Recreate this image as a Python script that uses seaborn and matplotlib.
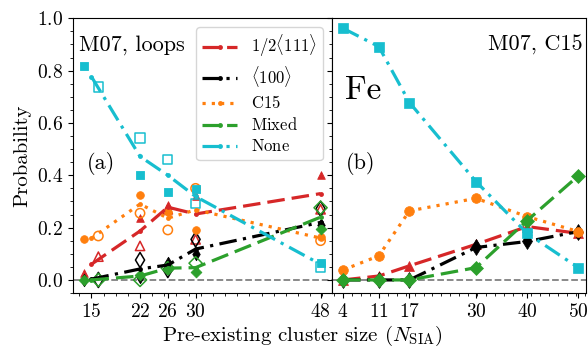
import matplotlib
matplotlib.use("Agg")
import matplotlib.pyplot as plt
from matplotlib.ticker import AutoMinorLocator
import seaborn as sns

# ---- panel (a): M07, loops ----
loop_sizes = [15, 22, 26, 30, 48]
loop_sizes_filled = [14, 22, 26, 30, 48]
loop_sizes_open = [16, 22, 26, 30, 48]

half111_avg = [0.060, 0.187, 0.278, 0.252, 0.330]
half111_filled = [0.028, 0.236, 0.285, 0.320, 0.400]
half111_open = [0.089, 0.130, 0.270, 0.155, 0.270]

h100_avg = [0.003, 0.042, 0.057, 0.118, 0.220]
h100_filled = [0.000, 0.010, 0.064, 0.100, 0.210]
h100_open = [0.000, 0.076, 0.038, 0.155, 0.272]

c15_avg = [0.159, 0.290, 0.236, 0.268, 0.160]
c15_filled = [0.156, 0.325, 0.260, 0.191, 0.163]
c15_open = [0.168, 0.255, 0.191, 0.350, 0.150]

mixed_avg = [0.000, 0.015, 0.045, 0.047, 0.240]
mixed_filled = [0.000, 0.020, 0.040, 0.030, 0.195]
mixed_open = [0.000, 0.000, 0.045, 0.064, 0.276]

none_avg = [0.777, 0.472, 0.400, 0.319, 0.060]
none_filled = [0.816, 0.400, 0.338, 0.347, 0.064]
none_open = [0.737, 0.542, 0.461, 0.293, 0.049]

# ---- panel (b): M07, C15 ----
c15_sizes = [4, 11, 17, 30, 40, 50]
b_half111 = [0.000, 0.015, 0.054, 0.136, 0.204, 0.178]
b_h100 = [0.000, 0.000, 0.000, 0.124, 0.147, 0.185]
b_c15 = [0.038, 0.092, 0.264, 0.312, 0.242, 0.185]
b_mixed = [0.000, 0.000, 0.000, 0.047, 0.227, 0.398]
b_none = [0.962, 0.892, 0.678, 0.376, 0.178, 0.047]

labels = [r"$1/2\langle111\rangle$", r"$\langle100\rangle$",
          r"$\mathrm{C15}$", r"$\mathrm{Mixed}$", r"$\mathrm{None}$"]
colors = ["#d62728", "black", "#ff7f0e", "#2ca02c", "#17becf"]
styles = [(0, (5.5, 2.2)), (0, (5.5, 2.0, 1.0, 2.0)), (0, (1.0, 1.9)),
          (0, (5.5, 2.2)), (0, (5.5, 2.0, 1.0, 2.0))]
markers = ["^", "d", "o", "D", "s"]

plt.rcParams["font.family"] = ["cmr10", "DejaVu Serif"]
plt.rcParams["mathtext.fontset"] = "cm"
plt.rcParams["axes.formatter.use_mathtext"] = True
plt.rcParams["axes.unicode_minus"] = False

fig = plt.figure(figsize=(5.88, 3.48), dpi=100)
axa = fig.add_axes([0.1236, 0.158, 0.4405, 0.7894])
axb = fig.add_axes([0.5641, 0.158, 0.4325, 0.7894], sharey=axa)

avg_sets = [half111_avg, h100_avg, c15_avg, mixed_avg, none_avg]
filled_sets = [half111_filled, h100_filled, c15_filled, mixed_filled, none_filled]
open_sets = [half111_open, h100_open, c15_open, mixed_open, none_open]
b_sets = [b_half111, b_h100, b_c15, b_mixed, b_none]

for ax in (axa, axb):
    ax.axhline(0, color="gray", ls="--", lw=1.3, zorder=0)

# individual runs as scatter markers, averages as lines
for lab, c, ls, mk, yf, yo, ya in zip(labels, colors, styles, markers,
                                      filled_sets, open_sets, avg_sets):
    sz = 30 if mk != "d" else 40
    sns.scatterplot(x=loop_sizes_filled, y=yf, ax=axa, marker=mk, s=sz,
                    color=c, edgecolor=c, linewidth=0.6, zorder=3)
    sns.scatterplot(x=loop_sizes_open, y=yo, ax=axa, marker=mk, s=sz * 1.5,
                    color=c, facecolor="none", edgecolor=c, linewidth=1.1,
                    zorder=3)
    sns.lineplot(x=loop_sizes, y=ya, ax=axa, color=c, linestyle=ls, lw=2.3,
                 marker="o", markersize=3.5, markeredgewidth=0, label=lab,
                 zorder=4)

for lab, c, ls, mk, yb in zip(labels, colors, styles, markers, b_sets):
    sns.lineplot(x=c15_sizes, y=yb, ax=axb, color=c, linestyle=ls, lw=2.3,
                 marker=mk, markersize=7 if mk != "d" else 8,
                 markeredgewidth=0.5, markeredgecolor=c, zorder=3)

axa.set_xlim(12.3, 49.6)
axb.set_xlim(1.8, 51.5)
axa.set_ylim(-0.05, 1.0)
axa.set_xticks(loop_sizes)
axb.set_xticks(c15_sizes)
axa.set_yticks([0.0, 0.2, 0.4, 0.6, 0.8, 1.0])
for ax in (axa, axb):
    ax.xaxis.set_minor_locator(AutoMinorLocator())
    ax.yaxis.set_minor_locator(AutoMinorLocator())
    ax.tick_params(labelsize=14)
    ax.set_xlabel("")
    ax.set_ylabel("")
axb.tick_params(labelleft=False)

axa.set_ylabel("Probability", fontsize=15)
fig.text(0.514, 0.036, r"Pre-existing cluster size ($N_{\rm SIA}$)",
         ha="center", va="center", fontsize=15)

axa.text(0.024, 0.903, "M07, loops", transform=axa.transAxes,
         ha="left", va="center", fontsize=16)
axa.text(0.054, 0.473, "(a)", transform=axa.transAxes,
         ha="left", va="center", fontsize=16)
axb.text(0.988, 0.903, "M07, C15", transform=axb.transAxes,
         ha="right", va="center", fontsize=16)
axb.text(0.052, 0.739, "Fe", transform=axb.transAxes,
         ha="left", va="center", fontsize=24)
axb.text(0.056, 0.473, "(b)", transform=axb.transAxes,
         ha="left", va="center", fontsize=16)

axa.legend(loc="upper right", fontsize=12, handlelength=2.1,
           borderaxespad=0.55, labelspacing=0.3, borderpad=0.35)

fig.savefig("out.png", dpi=100)
